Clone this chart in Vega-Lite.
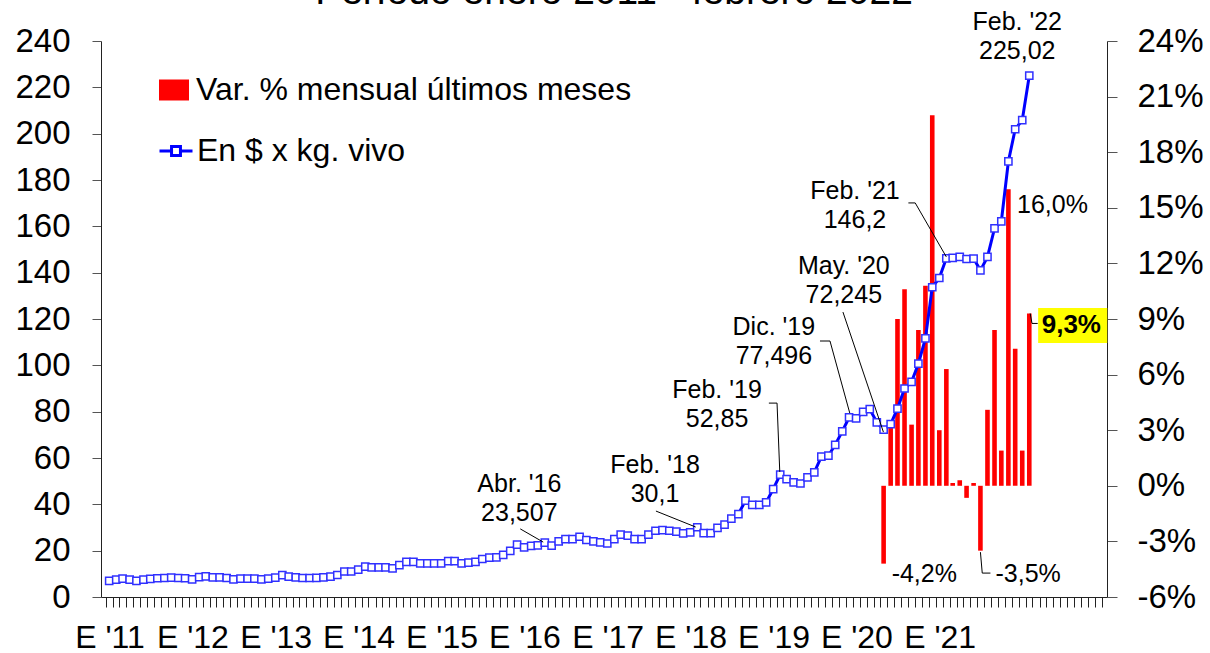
{
  "$schema": "https://vega.github.io/schema/vega-lite/v6.json",
  "width": 1006,
  "height": 556,
  "autosize": {"type": "none"},
  "padding": {"left": 101, "top": 41, "right": 103, "bottom": 56},
  "background": "white",
  "config": {
    "view": {"stroke": null},
    "font": "Liberation Sans",
    "text": {"font": "Liberation Sans", "color": "black"}
  },
  "title": {
    "text": "Período enero 2011 - febrero 2022",
    "frame": "group",
    "anchor": "middle",
    "baseline": "alphabetic",
    "offset": -12,
    "dy": 21,
    "dx": 10,
    "fontSize": 39,
    "fontWeight": "normal",
    "font": "Liberation Sans",
    "color": "black"
  },
  "datasets": {
    "precio": [
      {"fecha": "2011-01-15", "precio": 7.0}, {"fecha": "2011-02-15", "precio": 7.5}, {"fecha": "2011-03-15", "precio": 7.9}, {"fecha": "2011-04-15", "precio": 7.5},
      {"fecha": "2011-05-15", "precio": 7.0}, {"fecha": "2011-06-15", "precio": 7.5}, {"fecha": "2011-07-15", "precio": 7.8}, {"fecha": "2011-08-15", "precio": 8.1},
      {"fecha": "2011-09-15", "precio": 8.2}, {"fecha": "2011-10-15", "precio": 8.4}, {"fecha": "2011-11-15", "precio": 8.2}, {"fecha": "2011-12-15", "precio": 8.1},
      {"fecha": "2012-01-15", "precio": 7.6}, {"fecha": "2012-02-15", "precio": 8.6}, {"fecha": "2012-03-15", "precio": 8.9}, {"fecha": "2012-04-15", "precio": 8.5},
      {"fecha": "2012-05-15", "precio": 8.5}, {"fecha": "2012-06-15", "precio": 8.2}, {"fecha": "2012-07-15", "precio": 7.6}, {"fecha": "2012-08-15", "precio": 7.9},
      {"fecha": "2012-09-15", "precio": 7.9}, {"fecha": "2012-10-15", "precio": 7.9}, {"fecha": "2012-11-15", "precio": 7.6}, {"fecha": "2012-12-15", "precio": 7.9},
      {"fecha": "2013-01-15", "precio": 8.4}, {"fecha": "2013-02-15", "precio": 9.4}, {"fecha": "2013-03-15", "precio": 8.8}, {"fecha": "2013-04-15", "precio": 8.5},
      {"fecha": "2013-05-15", "precio": 8.2}, {"fecha": "2013-06-15", "precio": 8.2}, {"fecha": "2013-07-15", "precio": 8.3}, {"fecha": "2013-08-15", "precio": 8.5},
      {"fecha": "2013-09-15", "precio": 8.8}, {"fecha": "2013-10-15", "precio": 9.5}, {"fecha": "2013-11-15", "precio": 11.0}, {"fecha": "2013-12-15", "precio": 11.0},
      {"fecha": "2014-01-15", "precio": 11.8}, {"fecha": "2014-02-15", "precio": 13.1}, {"fecha": "2014-03-15", "precio": 12.8}, {"fecha": "2014-04-15", "precio": 12.8},
      {"fecha": "2014-05-15", "precio": 12.8}, {"fecha": "2014-06-15", "precio": 12.4}, {"fecha": "2014-07-15", "precio": 13.8}, {"fecha": "2014-08-15", "precio": 15.2},
      {"fecha": "2014-09-15", "precio": 15.2}, {"fecha": "2014-10-15", "precio": 14.5}, {"fecha": "2014-11-15", "precio": 14.5}, {"fecha": "2014-12-15", "precio": 14.5},
      {"fecha": "2015-01-15", "precio": 14.5}, {"fecha": "2015-02-15", "precio": 15.5}, {"fecha": "2015-03-15", "precio": 15.5}, {"fecha": "2015-04-15", "precio": 14.5},
      {"fecha": "2015-05-15", "precio": 14.8}, {"fecha": "2015-06-15", "precio": 15.2}, {"fecha": "2015-07-15", "precio": 16.4}, {"fecha": "2015-08-15", "precio": 17.0},
      {"fecha": "2015-09-15", "precio": 17.1}, {"fecha": "2015-10-15", "precio": 18.2}, {"fecha": "2015-11-15", "precio": 19.9}, {"fecha": "2015-12-15", "precio": 22.6},
      {"fecha": "2016-01-15", "precio": 21.4}, {"fecha": "2016-02-15", "precio": 22.1}, {"fecha": "2016-03-15", "precio": 22.3}, {"fecha": "2016-04-15", "precio": 23.507},
      {"fecha": "2016-05-15", "precio": 22.2}, {"fecha": "2016-06-15", "precio": 24.0}, {"fecha": "2016-07-15", "precio": 25.0}, {"fecha": "2016-08-15", "precio": 25.0},
      {"fecha": "2016-09-15", "precio": 26.0}, {"fecha": "2016-10-15", "precio": 24.6}, {"fecha": "2016-11-15", "precio": 24.0}, {"fecha": "2016-12-15", "precio": 23.6},
      {"fecha": "2017-01-15", "precio": 23.1}, {"fecha": "2017-02-15", "precio": 25.0}, {"fecha": "2017-03-15", "precio": 26.9}, {"fecha": "2017-04-15", "precio": 26.5},
      {"fecha": "2017-05-15", "precio": 25.0}, {"fecha": "2017-06-15", "precio": 25.0}, {"fecha": "2017-07-15", "precio": 26.9}, {"fecha": "2017-08-15", "precio": 28.6},
      {"fecha": "2017-09-15", "precio": 28.9}, {"fecha": "2017-10-15", "precio": 28.6}, {"fecha": "2017-11-15", "precio": 28.2}, {"fecha": "2017-12-15", "precio": 27.5},
      {"fecha": "2018-01-15", "precio": 27.9}, {"fecha": "2018-02-15", "precio": 30.1}, {"fecha": "2018-03-15", "precio": 27.6}, {"fecha": "2018-04-15", "precio": 27.6},
      {"fecha": "2018-05-15", "precio": 29.8}, {"fecha": "2018-06-15", "precio": 31.2}, {"fecha": "2018-07-15", "precio": 33.8}, {"fecha": "2018-08-15", "precio": 35.8},
      {"fecha": "2018-09-15", "precio": 41.6}, {"fecha": "2018-10-15", "precio": 39.8}, {"fecha": "2018-11-15", "precio": 39.8}, {"fecha": "2018-12-15", "precio": 40.8},
      {"fecha": "2019-01-15", "precio": 46.6}, {"fecha": "2019-02-15", "precio": 52.85}, {"fecha": "2019-03-15", "precio": 50.9}, {"fecha": "2019-04-15", "precio": 49.5},
      {"fecha": "2019-05-15", "precio": 49.0}, {"fecha": "2019-06-15", "precio": 51.6}, {"fecha": "2019-07-15", "precio": 53.8}, {"fecha": "2019-08-15", "precio": 60.6},
      {"fecha": "2019-09-15", "precio": 61.0}, {"fecha": "2019-10-15", "precio": 65.7}, {"fecha": "2019-11-15", "precio": 71.5}, {"fecha": "2019-12-15", "precio": 77.496},
      {"fecha": "2020-01-15", "precio": 77.1}, {"fecha": "2020-02-15", "precio": 79.9}, {"fecha": "2020-03-15", "precio": 81.1}, {"fecha": "2020-04-15", "precio": 75.4},
      {"fecha": "2020-05-15", "precio": 72.245}, {"fecha": "2020-06-15", "precio": 74.6}, {"fecha": "2020-07-15", "precio": 81.3}, {"fecha": "2020-08-15", "precio": 90.0},
      {"fecha": "2020-09-15", "precio": 92.9}, {"fecha": "2020-10-15", "precio": 100.7}, {"fecha": "2020-11-15", "precio": 111.6}, {"fecha": "2020-12-15", "precio": 133.7},
      {"fecha": "2021-01-15", "precio": 137.7}, {"fecha": "2021-02-15", "precio": 146.2}, {"fecha": "2021-03-15", "precio": 146.4}, {"fecha": "2021-04-15", "precio": 146.8},
      {"fecha": "2021-05-15", "precio": 145.9}, {"fecha": "2021-06-15", "precio": 146.1}, {"fecha": "2021-07-15", "precio": 141.0}, {"fecha": "2021-08-15", "precio": 146.8},
      {"fecha": "2021-09-15", "precio": 159.1}, {"fecha": "2021-10-15", "precio": 162.1}, {"fecha": "2021-11-15", "precio": 188.0}, {"fecha": "2021-12-15", "precio": 201.9},
      {"fecha": "2022-01-15", "precio": 205.8}, {"fecha": "2022-02-15", "precio": 225.02}
    ],
    "variacion": [
      {"fecha": "2020-05-15", "var": -0.042}, {"fecha": "2020-06-15", "var": 0.032}, {"fecha": "2020-07-15", "var": 0.090}, {"fecha": "2020-08-15", "var": 0.106},
      {"fecha": "2020-09-15", "var": 0.033}, {"fecha": "2020-10-15", "var": 0.084}, {"fecha": "2020-11-15", "var": 0.108}, {"fecha": "2020-12-15", "var": 0.200},
      {"fecha": "2021-01-15", "var": 0.030}, {"fecha": "2021-02-15", "var": 0.063}, {"fecha": "2021-03-15", "var": 0.0015}, {"fecha": "2021-04-15", "var": 0.003},
      {"fecha": "2021-05-15", "var": -0.0065}, {"fecha": "2021-06-15", "var": 0.0015}, {"fecha": "2021-07-15", "var": -0.035}, {"fecha": "2021-08-15", "var": 0.041},
      {"fecha": "2021-09-15", "var": 0.084}, {"fecha": "2021-10-15", "var": 0.019}, {"fecha": "2021-11-15", "var": 0.160}, {"fecha": "2021-12-15", "var": 0.074},
      {"fecha": "2022-01-15", "var": 0.019}, {"fecha": "2022-02-15", "var": 0.093}
    ],
    "notas_izq": [
      {"fecha": "2015-12-25", "valor": 48.6, "texto": "Abr. '16\n23,507"},
      {"fecha": "2017-08-13", "valor": 56.8, "texto": "Feb. '18\n30,1"},
      {"fecha": "2018-05-13", "valor": 89.4, "texto": "Feb. '19\n52,85"},
      {"fecha": "2019-01-18", "valor": 116.4, "texto": "Dic. '19\n77,496"},
      {"fecha": "2019-11-22", "valor": 142.7, "texto": "May. '20\n72,245"},
      {"fecha": "2020-01-10", "valor": 175.1, "texto": "Feb. '21\n146,2"},
      {"fecha": "2021-12-24", "valor": 248.0, "texto": "Feb. '22\n225,02"}
    ],
    "guias_izq": [
      {"g": "a", "o": 1, "fecha": "2015-12-29", "valor": 29.4}, {"g": "a", "o": 2, "fecha": "2016-04-08", "valor": 23.7},
      {"g": "b", "o": 1, "fecha": "2017-08-17", "valor": 37.1}, {"g": "b", "o": 2, "fecha": "2018-02-08", "valor": 30.2},
      {"g": "c", "o": 1, "fecha": "2018-12-27", "valor": 83.7}, {"g": "c", "o": 2, "fecha": "2019-02-01", "valor": 83.7}, {"g": "c", "o": 3, "fecha": "2019-02-13", "valor": 54.0},
      {"g": "d", "o": 1, "fecha": "2019-08-09", "valor": 110.5}, {"g": "d", "o": 2, "fecha": "2019-09-22", "valor": 110.5}, {"g": "d", "o": 3, "fecha": "2019-12-18", "valor": 79.4},
      {"g": "e", "o": 1, "fecha": "2019-11-18", "valor": 123.0}, {"g": "e", "o": 2, "fecha": "2020-05-14", "valor": 71.2},
      {"g": "f", "o": 1, "fecha": "2020-09-01", "valor": 170.1}, {"g": "f", "o": 2, "fecha": "2020-10-01", "valor": 170.1}, {"g": "f", "o": 3, "fecha": "2021-02-15", "valor": 146.8}
    ],
    "notas_der": [
      {"fecha": "2022-05-28", "valor": 0.1515, "texto": "16,0%"},
      {"fecha": "2020-11-10", "valor": -0.0477, "texto": "-4,2%"},
      {"fecha": "2022-02-10", "valor": -0.0477, "texto": "-3,5%"}
    ],
    "destacado": [
      {"fecha": "2022-08-19", "fecha2": "2023-01-24", "desde": "2022-03-26", "valor": 0.0867, "sup": 0.0959, "inf": 0.0770, "texto": "9,3%"}
    ],
    "guias_der": [
      {"g": "g", "o": 1, "fecha": "2021-07-15", "valor": -0.0358}, {"g": "g", "o": 2, "fecha": "2021-07-23", "valor": -0.0471}, {"g": "g", "o": 3, "fecha": "2021-08-28", "valor": -0.0471},
      {"g": "h", "o": 1, "fecha": "2022-02-19", "valor": 0.093}, {"g": "h", "o": 2, "fecha": "2022-02-27", "valor": 0.0876}, {"g": "h", "o": 3, "fecha": "2022-03-24", "valor": 0.0876}
    ]
  },
  "encoding": {
    "x": {
      "field": "fecha",
      "type": "temporal",
      "scale": {
        "type": "utc",
        "domain": [
          {"year": 2011, "month": 1, "date": 1, "utc": true},
          {"year": 2023, "month": 1, "date": 1, "utc": true}
        ],
        "nice": false
      },
      "axis": {
        "title": null,
        "grid": false,
        "tickCount": {"interval": "month", "step": 1},
        "labelExpr": "utcmonth(datum.value) === 0 && utcyear(datum.value) < 2022 ? \"E '\" + utcFormat(datum.value, '%y') : ''",
        "labelOverlap": false,
        "labelFlush": false,
        "labelBound": false,
        "labelFont": "Liberation Sans",
        "labelFontSize": 32,
        "labelColor": "black",
        "labelOffset": 3.5,
        "labelPadding": 15,
        "tickSize": 10,
        "tickColor": "#222",
        "domainColor": "#222"
      }
    }
  },
  "layer": [
    {
      "layer": [
        {
          "data": {"name": "variacion"},
          "mark": {"type": "bar", "size": 4.6},
          "encoding": {
            "y": {
              "field": "var",
              "type": "quantitative",
              "scale": {"domain": [-0.06, 0.24], "nice": false},
              "axis": {
                "orient": "right",
                "title": null,
                "grid": false,
                "values": [-0.06, -0.03, 0, 0.03, 0.06, 0.09, 0.12, 0.15, 0.18, 0.21, 0.24],
                "labelExpr": "round(datum.value * 100) + '%'",
                "labelFont": "Liberation Sans",
                "labelFontSize": 33,
                "labelColor": "black",
                "labelPadding": 20,
                "tickSize": 10,
                "tickColor": "#555",
                "domainColor": "#222"
              }
            },
            "fill": {
              "datum": "Var. % mensual últimos meses",
              "scale": {"range": ["#ff0000"]},
              "legend": {
                "orient": "none",
                "legendX": 57,
                "legendY": 33,
                "title": null,
                "padding": 0,
                "symbolType": "M-1,-0.7H1V0.7H-1Z",
                "symbolSize": 900,
                "symbolStrokeWidth": 0,
                "labelFont": "Liberation Sans",
                "labelFontSize": 32,
                "labelColor": "black",
                "labelLimit": 800,
                "labelOffset": 6
              }
            }
          }
        },
        {
          "data": {"name": "destacado"},
          "mark": {"type": "rect", "color": "#ffff00"},
          "encoding": {
            "x": {"field": "desde", "type": "temporal"},
            "x2": {"field": "fecha2"},
            "y": {"field": "sup", "type": "quantitative", "scale": {"domain": [-0.06, 0.24], "nice": false}},
            "y2": {"field": "inf"}
          }
        },
        {
          "data": {"name": "notas_der"},
          "mark": {"type": "text", "fontSize": 25, "align": "center", "baseline": "middle"},
          "encoding": {
            "y": {"field": "valor", "type": "quantitative", "scale": {"domain": [-0.06, 0.24], "nice": false}},
            "text": {"field": "texto"}
          }
        },
        {
          "data": {"name": "destacado"},
          "mark": {"type": "text", "fontSize": 26, "fontWeight": "bold", "align": "center", "baseline": "middle"},
          "encoding": {
            "y": {"field": "valor", "type": "quantitative", "scale": {"domain": [-0.06, 0.24], "nice": false}},
            "text": {"field": "texto"}
          }
        },
        {
          "data": {"name": "guias_der"},
          "mark": {"type": "line", "color": "black", "strokeWidth": 1},
          "encoding": {
            "y": {"field": "valor", "type": "quantitative", "scale": {"domain": [-0.06, 0.24], "nice": false}},
            "detail": {"field": "g"},
            "order": {"field": "o"}
          }
        }
      ]
    },
    {
      "layer": [
        {
          "data": {"name": "precio"},
          "mark": {"type": "line", "strokeWidth": 3},
          "encoding": {
            "y": {
              "field": "precio",
              "type": "quantitative",
              "scale": {"domain": [0, 240], "nice": false},
              "axis": {
                "orient": "left",
                "title": null,
                "grid": false,
                "values": [0, 20, 40, 60, 80, 100, 120, 140, 160, 180, 200, 220, 240],
                "labelFont": "Liberation Sans",
                "labelFontSize": 33,
                "labelColor": "black",
                "labelPadding": 22,
                "tickSize": 9,
                "tickColor": "#555",
                "domainColor": "#222"
              }
            },
            "stroke": {
              "datum": "En $ x kg. vivo",
              "scale": {"range": ["#0000ff"]},
              "legend": {
                "orient": "none",
                "legendX": 57,
                "legendY": 92,
                "title": null,
                "padding": 0,
                "symbolType": "M-1,0H-0.27M0.27,0H1M-0.27,-0.27H0.27V0.27H-0.27Z",
                "symbolSize": 1089,
                "symbolStrokeWidth": 3,
                "symbolFillColor": "white",
                "labelFont": "Liberation Sans",
                "labelFontSize": 32,
                "labelColor": "black",
                "labelLimit": 800,
                "labelOffset": 3
              }
            }
          }
        },
        {
          "data": {"name": "precio"},
          "mark": {"type": "point", "shape": "square", "size": 52, "filled": true, "fill": "white", "stroke": "#3030ff", "strokeWidth": 1.5, "opacity": 1},
          "encoding": {
            "y": {"field": "precio", "type": "quantitative", "scale": {"domain": [0, 240], "nice": false}}
          }
        },
        {
          "data": {"name": "guias_izq"},
          "mark": {"type": "line", "color": "black", "strokeWidth": 1},
          "encoding": {
            "y": {"field": "valor", "type": "quantitative", "scale": {"domain": [0, 240], "nice": false}},
            "detail": {"field": "g"},
            "order": {"field": "o"}
          }
        },
        {
          "data": {"name": "notas_izq"},
          "mark": {"type": "text", "fontSize": 25, "align": "center", "baseline": "middle", "lineBreak": "\n", "lineHeight": 29},
          "encoding": {
            "y": {"field": "valor", "type": "quantitative", "scale": {"domain": [0, 240], "nice": false}},
            "text": {"field": "texto"}
          }
        }
      ]
    }
  ],
  "resolve": {"scale": {"y": "independent"}}
}
